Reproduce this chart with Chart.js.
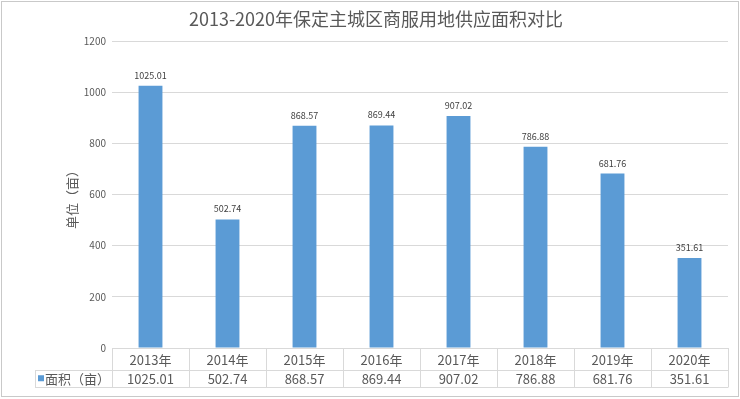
<!DOCTYPE html>
<html>
<head>
<meta charset="utf-8">
<script src="https://cdn.jsdelivr.net/npm/chart.js@4"></script>
<style>
  html, body { margin: 0; padding: 0; background: #fff; }
  #wrap { width: 740px; height: 399px; position: relative; }
</style>
</head>
<body>
<div id="wrap"><canvas id="chart" width="740" height="399"></canvas></div>
<script>
// Chart data
const years = ['2013年', '2014年', '2015年', '2016年', '2017年', '2018年', '2019年', '2020年'];
const areas = [1025.01, 502.74, 868.57, 869.44, 907.02, 786.88, 681.76, 351.61];
const yTicks = [0, 200, 400, 600, 800, 1000, 1200];
const titleText = '2013-2020年保定主城区商服用地供应面积对比';
const seriesName = '面积（亩）';
const yAxisName = '单位（亩）';

const FONT = '"Noto Sans CJK SC", "Microsoft YaHei", sans-serif';
const BLUE = '#5b9bd5';
const GRID = '#d9d9d9';
const TEXT = '#595959';

// Title, y axis name, border
const decorPlugin = {
    id: 'decor',
    beforeDraw(chart) {
        const ctx = chart.ctx;
        ctx.save();
        ctx.fillStyle = '#fff';
        ctx.fillRect(0, 0, chart.width, chart.height);
        ctx.strokeStyle = '#c9c9c9';
        ctx.lineWidth = 1;
        ctx.strokeRect(1.5, 1.5, chart.width - 3, chart.height - 4);
        ctx.restore();
    },
    afterDraw(chart) {
        const ctx = chart.ctx;
        const area = chart.chartArea;
        ctx.save();
        ctx.fillStyle = TEXT;
        ctx.font = '18px ' + FONT;
        ctx.textAlign = 'center';
        ctx.textBaseline = 'middle';
        ctx.fillText(titleText, 376, 19);

        ctx.translate(72, (area.top + area.bottom) / 2 + 2);
        ctx.rotate(-Math.PI / 2);
        ctx.font = '13px ' + FONT;
        ctx.fillText(yAxisName, 0, 0);
        ctx.restore();
    }
};

// Value labels over bars
const labelPlugin = {
    id: 'barLabels',
    afterDatasetsDraw(chart) {
        const ctx = chart.ctx;
        const meta = chart.getDatasetMeta(0);
        ctx.save();
        ctx.fillStyle = '#404040';
        ctx.font = '9px ' + FONT;
        ctx.textAlign = 'center';
        ctx.textBaseline = 'bottom';
        meta.data.forEach((bar, i) => {
            ctx.fillText(areas[i].toFixed(2), bar.x, bar.y - 6);
        });
        ctx.restore();
    }
};

// Data table below the plot
const tablePlugin = {
    id: 'dataTable',
    afterDraw(chart) {
        const ctx = chart.ctx;
        const xScale = chart.scales.x;
        const area = chart.chartArea;
        const top = area.bottom;
        const mid = top + 21.5;
        const bottom = top + 39;
        const legendLeft = 35;
        const step = (area.right - area.left) / years.length;

        ctx.save();
        ctx.strokeStyle = GRID;
        ctx.lineWidth = 1;
        ctx.beginPath();
        ctx.moveTo(area.left, top + 0.5);
        ctx.lineTo(area.right, top + 0.5);
        ctx.moveTo(legendLeft, Math.round(mid) + 0.5);
        ctx.lineTo(area.right, Math.round(mid) + 0.5);
        ctx.moveTo(legendLeft, Math.round(bottom) + 0.5);
        ctx.lineTo(area.right, Math.round(bottom) + 0.5);
        for (let i = 0; i <= years.length; i++) {
            const x = Math.round(area.left + step * i) + 0.5;
            ctx.moveTo(x, top);
            ctx.lineTo(x, bottom + 0.5);
        }
        ctx.moveTo(legendLeft + 0.5, Math.round(mid));
        ctx.lineTo(legendLeft + 0.5, Math.round(bottom) + 0.5);
        ctx.stroke();

        ctx.fillStyle = TEXT;
        ctx.font = '13px ' + FONT;
        ctx.textAlign = 'center';
        ctx.textBaseline = 'middle';
        years.forEach((y, i) => {
            const x = xScale.getPixelForValue(i);
            ctx.fillText(y, x, (top + mid) / 2 + 1);
            ctx.fillText(areas[i].toFixed(2), x, (mid + bottom) / 2 + 1);
        });

        ctx.fillStyle = BLUE;
        ctx.fillRect(38, (mid + bottom) / 2 - 3, 6, 6);
        ctx.fillStyle = TEXT;
        ctx.textAlign = 'left';
        ctx.fillText(seriesName, 45, (mid + bottom) / 2 + 1);
        ctx.restore();
    }
};

new Chart(document.getElementById('chart').getContext('2d'), {
    type: 'bar',
    data: {
        labels: years,
        datasets: [{
            label: seriesName,
            data: areas,
            backgroundColor: BLUE,
            borderWidth: 0,
            barPercentage: 0.31,
            categoryPercentage: 1
        }]
    },
    options: {
        responsive: false,
        animation: false,
        layout: {
            padding: { left: 0, right: 12, top: 41, bottom: 51 }
        },
        plugins: {
            legend: { display: false },
            title: { display: false },
            tooltip: { enabled: false }
        },
        scales: {
            x: {
                ticks: { display: false },
                grid: { display: false, drawTicks: false },
                border: { display: false },
                afterFit(scale) {
                    scale.height = 0;
                }
            },
            y: {
                min: 0,
                max: 1200,
                afterBuildTicks(scale) {
                    scale.ticks = yTicks.map(v => ({ value: v }));
                },
                afterFit(scale) {
                    scale.width = 112;
                },
                ticks: {
                    color: TEXT,
                    font: { size: 10, family: FONT },
                    padding: 6,
                    callback: (value) => String(value)
                },
                grid: {
                    color: GRID,
                    drawTicks: false
                },
                border: { display: false }
            }
        }
    },
    plugins: [decorPlugin, labelPlugin, tablePlugin]
});
</script>
</body>
</html>
